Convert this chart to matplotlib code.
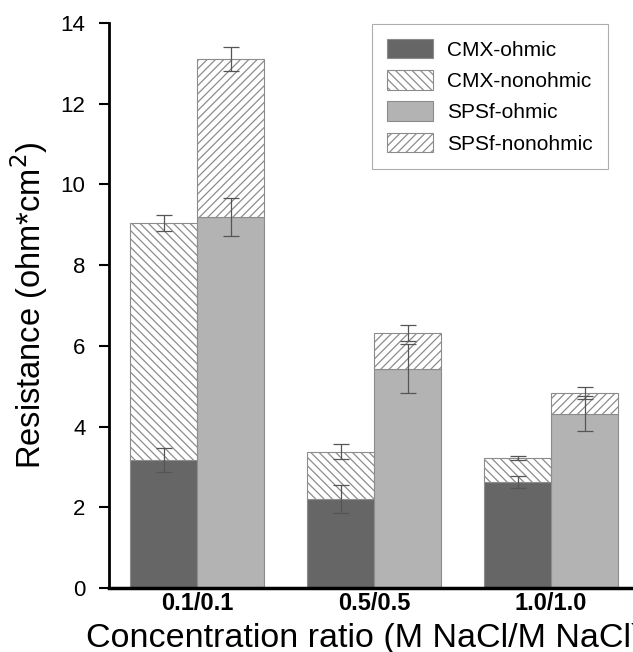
import numpy as np
import matplotlib.pyplot as plt

categories = ['0.1/0.1', '0.5/0.5', '1.0/1.0']

cmx_ohmic = [3.17, 2.20, 2.62]
cmx_total = [9.04, 3.38, 3.21]
spsf_ohmic = [9.19, 5.43, 4.32]
spsf_total = [13.11, 6.31, 4.83]

cmx_ohmic_err = [0.29, 0.35, 0.15]
cmx_total_err = [0.2, 0.19, 0.05]
spsf_ohmic_err = [0.47, 0.61, 0.43]
spsf_total_err = [0.29, 0.20, 0.15]

cmx_non = np.array(cmx_total) - np.array(cmx_ohmic)
spsf_non = np.array(spsf_total) - np.array(spsf_ohmic)

plt.rcParams['font.family'] = ['Liberation Sans', 'DejaVu Sans']
plt.rcParams['hatch.color'] = '#8a8a8a'
plt.rcParams['hatch.linewidth'] = 0.9

fig = plt.figure(figsize=(6.33, 6.52), dpi=100)
# axes: left spine at x=109 px, zero line at y=588 px, 14 at y=23 px
ax = fig.add_axes([109 / 633, 1 - 588 / 652, 1 - 109 / 633, (588 - 23) / 652])

x = np.arange(len(categories))
w = 67 / 177
edge = '#8c8c8c'

ax.bar(x - w / 2, cmx_ohmic, w, color='#666666', edgecolor=edge, linewidth=0.8, label='CMX-ohmic')
ax.bar(x - w / 2, cmx_non, w, bottom=cmx_ohmic, color='white', edgecolor=edge, hatch='\\\\\\\\',
       linewidth=0.8, label='CMX-nonohmic')
ax.bar(x + w / 2, spsf_ohmic, w, color='#b3b3b3', edgecolor=edge, linewidth=0.8, label='SPSf-ohmic')
ax.bar(x + w / 2, spsf_non, w, bottom=spsf_ohmic, color='white', edgecolor=edge, hatch='////',
       linewidth=0.8, label='SPSf-nonohmic')

err_kw = dict(fmt='none', ecolor='#555555', elinewidth=0.9, capsize=5.5, capthick=0.9)
ax.errorbar(x - w / 2, cmx_ohmic, yerr=cmx_ohmic_err, **err_kw)
ax.errorbar(x - w / 2, cmx_total, yerr=cmx_total_err, **err_kw)
ax.errorbar(x + w / 2, spsf_ohmic, yerr=spsf_ohmic_err, **err_kw)
ax.errorbar(x + w / 2, spsf_total, yerr=spsf_total_err, **err_kw)

ax.set_xlim(-88 / 177, (633 - 197) / 177)
ax.set_ylim(0, 14)
ax.set_yticks(range(0, 15, 2))
ax.tick_params(axis='y', direction='out', length=7, width=1.5, labelsize=16, pad=10)
ax.tick_params(axis='x', length=0, labelsize=17, pad=3)
ax.set_xticks(x)
ax.set_xticklabels(categories, fontweight='bold')

for s in ['top', 'right']:
    ax.spines[s].set_visible(False)
ax.spines['left'].set_linewidth(2)
ax.spines['bottom'].set_linewidth(2.5)

ax.set_ylabel('Resistance (ohm*cm$^2$)', fontsize=23.5)
ax.yaxis.set_label_coords(-0.113, 0.5)
ax.set_xlabel('Concentration ratio (M NaCl/M NaCl)', fontsize=24.5, ha='left', va='baseline')
ax.xaxis.set_label_coords(-23 / 524, -59 / 565)

leg = ax.legend(loc='upper left', bbox_to_anchor=((372 - 109) / 524, 1 - 1 / 565),
                fontsize=15, frameon=True, fancybox=False, edgecolor='#999999',
                borderpad=0.72, labelspacing=0.5, handlelength=2.2, handleheight=1.06,
                handletextpad=0.7, borderaxespad=0)
leg.get_frame().set_linewidth(0.8)

fig.savefig('out.png', dpi=100)
